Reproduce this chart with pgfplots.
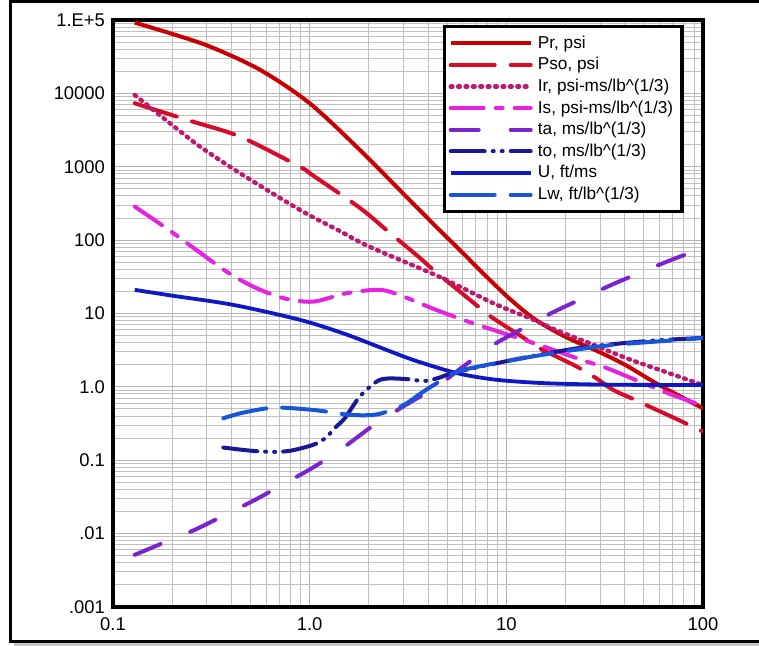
\documentclass[border=0pt]{standalone}
\usepackage{fontspec}
\setmainfont{Liberation Sans}
\usepackage{pgfplots}
\pgfplotsset{compat=1.18}
\definecolor{cPr}{RGB}{200,0,0}
\definecolor{cPso}{RGB}{215,10,40}
\definecolor{cIr}{RGB}{190,25,110}
\definecolor{cIs}{RGB}{228,35,225}
\definecolor{cta}{RGB}{125,35,205}
\definecolor{cto}{RGB}{25,25,150}
\definecolor{cU}{RGB}{15,25,195}
\definecolor{cLw}{RGB}{25,85,215}
\begin{document}
\begin{tikzpicture}
\useasboundingbox (0pt,0pt) rectangle (379.5pt,323pt);
\fill[white] (0pt,0pt) rectangle (379.5pt,323pt);
\draw[gray!45, line width=1.6pt] (7pt,0.9pt) -- (390pt,0.9pt);
\draw[black, line width=1.5pt] (390pt,322pt) -- (5pt,322pt) -- (5pt,2.2pt) -- (390pt,2.2pt);
\begin{axis}[
  at={(56.5pt,19.5pt)}, anchor=south west,
  scale only axis, width=295pt, height=293.5pt,
  xmode=log, ymode=log,
  xmin=0.1, xmax=100, ymin=0.001, ymax=1e5,
  xtick={0.1,1,10,100},
  xticklabels={0.1,1.0,10,100},
  ytick={0.001,0.01,0.1,1,10,100,1000,10000,100000},
  yticklabels={.001,.01,0.1,1.0,10,100,1000,10000,1.E+5},
  minor xtick={0.2,0.3,0.4,0.5,0.6,0.7,0.8,0.9,2,3,4,5,6,7,8,9,20,30,40,50,60,70,80,90},
  minor ytick={0.002,0.003,0.004,0.005,0.006,0.007,0.008,0.009,
               0.02,0.03,0.04,0.05,0.06,0.07,0.08,0.09,
               0.2,0.3,0.4,0.5,0.6,0.7,0.8,0.9,
               2,3,4,5,6,7,8,9,20,30,40,50,60,70,80,90,
               200,300,400,500,600,700,800,900,
               2000,3000,4000,5000,6000,7000,8000,9000,
               20000,30000,40000,50000,60000,70000,80000,90000},
  grid=both,
  major grid style={gray!60, line width=0.6pt},
  minor grid style={gray!50, line width=0.5pt},
  major tick length=0pt, minor tick length=0pt,
  axis line style={black, line width=2pt},
  tick label style={font=\fontsize{9.2}{11}\selectfont},
  xticklabel style={yshift=-2pt},
  yticklabel style={xshift=-0.5pt},
  legend image code/.code={\draw[#1] (0pt,0pt) -- (40pt,0pt);},
  legend style={at={(0.559,0.9915)}, anchor=north west, draw=black,
    line width=1.7pt, fill=white, font=\fontsize{8.6}{9}\selectfont,
    inner xsep=2pt, inner ysep=4pt, row sep=2pt,
    nodes={inner ysep=0pt, inner xsep=2.5pt, text height=6.8pt, text depth=2pt},
    cells={anchor=west}},
  legend cell align=left,
]
\addplot[cPr, line width=2pt, smooth, tension=0.5] coordinates {
(0.129,92000) (0.195,66000) (0.312,43300) (0.56,20900) (1.0,7330) (1.8,1694)
(3.0,427) (4.42,150) (6,67) (8,31) (10.5,15.5) (14,8.3) (20,4.8) (30,2.95)
(40.8,1.95) (60.2,1.05) (100,0.51)};
\addlegendentry{Pr, psi}
\addplot[cPso, line width=2pt, line cap=round, dash pattern=on 22pt off 8pt, smooth, tension=0.5] coordinates {
(0.129,7330) (0.25,4180) (0.443,2570) (0.892,1000) (1.04,760) (1.8,275) (2.5,132)
(3.64,57) (4.25,39.3) (5.5,22.4) (7.2,12.4) (8.58,8.6) (11.5,5.2) (14.8,3.36)
(18.7,2.46) (22.8,1.89) (28.8,1.3) (34.9,0.91) (45,0.667) (58.1,0.486) (69,0.394) (100,0.246)};
\addlegendentry{Pso, psi}
\addplot[cIr, line width=2.2pt, line cap=round, dash pattern=on 0.9pt off 2.8pt, smooth, tension=0.5] coordinates {
(0.129,9500) (0.2,3700) (0.277,1880) (0.443,815) (0.892,258) (1.4,136) (2.0,82)
(4.2,35) (5.81,23.2) (8.9,13.2) (13.2,8.6) (18.7,5.66) (26.5,3.94) (40.8,2.46)
(60,1.71) (89,1.18) (100,1.06)};
\addlegendentry{Ir, psi-ms/lb\textasciicircum(1/3)}
\addplot[cIs, line width=2pt, line cap=round, dash pattern=on 16.5pt off 6pt on 3.5pt off 6pt, smooth, tension=0.5] coordinates {
(0.129,286) (0.187,145) (0.27,71) (0.378,37.2) (0.52,23) (0.734,16.2) (1.04,14.5)
(1.54,18.9) (2.28,21) (3.0,17) (4.25,11.6) (6.03,8.2) (7.6,6.6) (8.6,5.97)
(14.8,3.7) (22.8,2.46) (30.5,1.9) (34.3,1.7) (60.2,0.91) (73.5,0.74) (100,0.55)};
\addlegendentry{Is, psi-ms/lb\textasciicircum(1/3)}
\addplot[cta, line width=2pt, line cap=round, dash pattern=on 14pt off 16pt, smooth, tension=0.5] coordinates {
(0.129,0.00514) (0.183,0.0076) (0.261,0.0113) (0.371,0.018) (0.527,0.0288)
(0.75,0.0487) (1.06,0.082) (1.51,0.154) (2.07,0.288) (2.99,0.54) (4.42,1.01)
(6.03,1.89) (8.58,3.73) (12.2,6.3) (16.9,10.1) (24.6,16.2) (34.3,24.6)
(49.3,37.2) (69,53.7) (100,78)};
\addlegendentry{ta, ms/lb\textasciicircum(1/3)}
\addplot[cto, line width=2pt, line cap=round, dash pattern=on 17pt off 4pt on 0.5pt off 4pt on 0.5pt off 4pt, smooth, tension=0.5] coordinates {
(0.364,0.149) (0.5,0.135) (0.653,0.13) (0.8,0.135) (1.04,0.162) (1.2,0.2)
(1.37,0.29) (1.51,0.375) (1.8,0.74) (2.19,1.18) (2.5,1.3) (3.2,1.27) (3.8,1.2)
(4.5,1.32) (5.6,1.6) (10.8,2.33) (23.7,3.4) (51.7,4.2) (100,4.65)};
\addlegendentry{to, ms/lb\textasciicircum(1/3)}
\addplot[cU, line width=1.9pt, smooth, tension=0.5] coordinates {
(0.129,21) (0.2,17.5) (0.409,13.1) (0.892,8.2) (1.5,5.3) (2.28,3.45) (3.36,2.33)
(5.6,1.54) (8.9,1.25) (16,1.12) (34.9,1.07) (100,1.06)};
\addlegendentry{U, ft/ms}
\addplot[cLw, line width=2pt, line cap=round, dash pattern=on 22pt off 8pt, smooth, tension=0.5] coordinates {
(0.364,0.374) (0.45,0.44) (0.604,0.51) (0.734,0.52) (1.0,0.49) (1.22,0.46)
(1.54,0.42) (1.9,0.41) (2.28,0.43) (2.99,0.56) (3.78,0.86) (4.97,1.35)
(6.03,1.70) (10.8,2.33) (19.5,3.03) (34.9,3.73) (76,4.37) (100,4.65)};
\addlegendentry{Lw, ft/lb\textasciicircum(1/3)}
\end{axis}
\end{tikzpicture}
\end{document}
